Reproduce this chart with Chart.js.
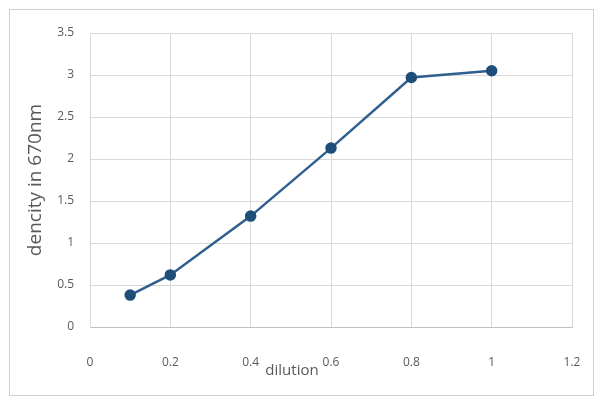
<!DOCTYPE html>
<html>
<head>
<meta charset="utf-8">
<script src="https://cdn.jsdelivr.net/npm/chart.js@4"></script>
<style>
  body { margin: 0; background: #fff; }
  #wrap { position: relative; width: 597px; height: 396px; }
  #frame { position: absolute; left: 9px; top: 9px; width: 585px; height: 387px; border: 1px solid #d0d0d0; box-sizing: border-box; }
  canvas { position: absolute; left: 0; top: 0; }
</style>
</head>
<body>
<div id="wrap">
  <div id="frame"></div>
  <canvas id="chart" width="597" height="396"></canvas>
</div>
<script>
// readings
const dilution = [0.1, 0.2, 0.4, 0.6, 0.8, 1];
const density = [0.38, 0.62, 1.32, 2.13, 2.97, 3.05];
const xTicks = [0, 0.2, 0.4, 0.6, 0.8, 1, 1.2];
const yTicks = [0, 0.5, 1, 1.5, 2, 2.5, 3, 3.5];

const labelFont = "'Open Sans', 'Liberation Sans', sans-serif";

// x title sits off-centre in the original, so place it by hand
const xTitlePlugin = {
  id: "xTitle",
  afterDraw(chart) {
    const ctx = chart.ctx;
    ctx.save();
    ctx.font = "15px " + labelFont;
    ctx.fillStyle = "#595959";
    ctx.textAlign = "center";
    ctx.textBaseline = "middle";
    ctx.fillText("dilution", 292, 371);
    ctx.restore();
  },
};

new Chart(document.getElementById("chart"), {
  type: "scatter",
  data: {
    datasets: [
      {
        data: dilution.map((x, i) => ({ x: x, y: density[i] })),
        showLine: true,
        borderColor: "#2f5f8f",
        borderWidth: 2.5,
        backgroundColor: "#1f4e79",
        pointBackgroundColor: "#1f4e79",
        pointBorderColor: "#1f4e79",
        pointRadius: 4.5,
        tension: 0,
      },
    ],
  },
  options: {
    responsive: false,
    animation: false,
    layout: {
      padding: { left: 24, right: 25, top: 33, bottom: 0 },
    },
    scales: {
      x: {
        type: "linear",
        min: 0,
        max: 1.2,
        afterBuildTicks: (scale) => {
          scale.ticks = xTicks.map((v) => ({ value: v }));
        },
        afterFit: (scale) => {
          scale.height = 396 - 327;
          // tick padding would otherwise eat into the plot width
          scale.paddingLeft = 0;
          scale.paddingRight = 0;
        },
        ticks: {
          color: "#595959",
          font: { family: labelFont, size: 12 },
          padding: 28,
          callback: (v) => String(v),
        },
        grid: { color: "#d9d9d9", drawTicks: false },
        border: { color: "#bfbfbf" },
      },
      y: {
        min: 0,
        max: 3.5,
        afterBuildTicks: (scale) => {
          scale.ticks = yTicks.map((v) => ({ value: v }));
        },
        afterFit: (scale) => {
          scale.width = 90 - 24;
        },
        ticks: {
          color: "#595959",
          font: { family: labelFont, size: 12 },
          padding: 16,
          callback: (v) => String(v),
        },
        title: {
          display: true,
          text: "dencity in 670nm",
          color: "#595959",
          font: { family: labelFont, size: 19 },
          padding: 0,
        },
        grid: { color: "#d9d9d9", drawTicks: false },
        border: { color: "#d9d9d9" },
      },
    },
    plugins: {
      legend: { display: false },
      tooltip: { enabled: false },
    },
  },
  plugins: [xTitlePlugin],
});
</script>
</body>
</html>
